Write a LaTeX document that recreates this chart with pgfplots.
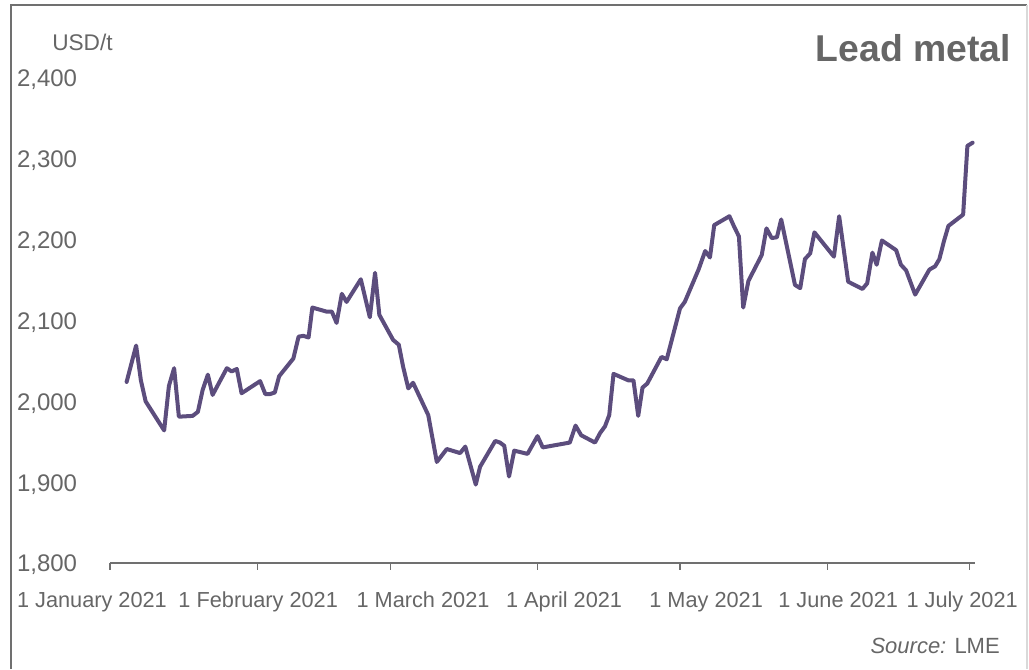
\documentclass[border=0pt]{standalone}
\usepackage{pgfplots}
\pgfplotsset{compat=1.18}
\usepackage{fontspec}
\setmainfont{Liberation Sans}

\definecolor{leadline}{HTML}{5C4D7D}
\definecolor{txtgray}{HTML}{666666}
\definecolor{framegray}{HTML}{707070}

\begin{document}
\begin{tikzpicture}
% 1 px of the reference = 0.75pt, origin at the axis' lower left corner
\useasboundingbox (-82.5pt,-79.5pt) rectangle (689.25pt,422.25pt);
\draw[framegray, line width=1.3pt] (-74.25pt,-79.5pt) -- (-74.25pt,418.5pt) -- (687.75pt,418.5pt);
\draw[gray!30, line width=1pt] (687.75pt,418.5pt) -- (687.75pt,-79.5pt);

\begin{axis}[
	at={(0,0)}, anchor=south west,
	scale only axis,
	width=648.4pt, height=363.75pt,
	xmin=0, xmax=182,
	ymin=1800, ymax=2400,
	axis lines*=left,
	x axis line style={draw=framegray, line width=1.3pt},
	y axis line style={draw=none},
	xtick={0,31,59,90,120,151,181},
	xticklabels={},
	xtick style={draw=framegray, line width=1pt},
	ytick={1800,1900,...,2400},
	ytick style={draw=none},
	tick align=outside,
	major tick length=5pt,
	yticklabel style={anchor=west, xshift=-68.25pt, yshift=-1.5pt, font=\fontsize{18}{20}\selectfont, text=txtgray},
	/pgf/number format/.cd, 1000 sep={,}, assume math mode=true,
	/pgfplots/.cd,
	clip=false,
]

\addplot[leadline, line width=3pt, line join=round, line cap=round] coordinates {
	(3.5,2024) (5.5,2069) (6.5,2026) (7.5,2000) (11.4,1964) (12.4,2019)
	(13.5,2041) (14.5,1981) (17.4,1982) (18.5,1987) (19.5,2014) (20.6,2033)
	(21.6,2008) (24.6,2041) (25.6,2037) (26.7,2040) (27.7,2010) (31.6,2025)
	(32.7,2009) (33.7,2009) (34.7,2011) (35.6,2031) (38.6,2053) (39.7,2080)
	(40.7,2081) (41.8,2079) (42.6,2116) (45.6,2111) (46.7,2111) (47.7,2097)
	(48.8,2133) (49.8,2123) (52.8,2151) (54.7,2104) (55.8,2159) (56.7,2107)
	(59.6,2076) (60.8,2070) (61.7,2043) (62.8,2016) (63.8,2023) (67.0,1983)
	(68.8,1925) (70.9,1941) (73.7,1936) (74.8,1944) (77.0,1897) (77.9,1919)
	(81.1,1951) (82.1,1949) (83.0,1945) (84.0,1907) (85.1,1939) (87.9,1935)
	(90.0,1957) (91.1,1943) (96.8,1949) (98.0,1970) (99.2,1958) (102.1,1949)
	(103.2,1961) (104.2,1969) (105.1,1983) (106.0,2034) (109.1,2026) (110.2,2026)
	(111.2,1982) (112.1,2017) (113.1,2022) (116.1,2055) (117.2,2052) (118.4,2079)
	(120.0,2115) (121.0,2123) (123.9,2163) (125.3,2186) (126.3,2178) (127.2,2218)
	(130.4,2229) (131.4,2216) (132.4,2204) (133.3,2116) (134.4,2149) (137.2,2181)
	(138.2,2214) (139.3,2202) (140.4,2203) (141.3,2225) (144.2,2144) (145.3,2140)
	(146.3,2176) (147.4,2183) (148.3,2209) (152.4,2179) (153.5,2229) (155.4,2148)
	(158.4,2139) (159.4,2146) (160.5,2184) (161.4,2169) (162.5,2199) (165.5,2187)
	(166.5,2169) (167.6,2162) (169.5,2132) (172.5,2163) (173.7,2167) (174.6,2176)
	(175.6,2199) (176.5,2217) (179.6,2231) (180.5,2316) (181.6,2320)
};

% date labels, set where the reference has them
\begin{scope}[every node/.style={anchor=base, text=txtgray, font=\fontsize{16.3}{19}\selectfont, inner sep=0pt}]
\node at ([yshift=-33pt]axis cs:-3.8,1800) {1 January 2021};
\node at ([yshift=-33pt]axis cs:31.2,1800) {1 February 2021};
\node at ([yshift=-33pt]axis cs:65.9,1800) {1 March 2021};
\node at ([yshift=-33pt]axis cs:95.6,1800) {1 April 2021};
\node at ([yshift=-33pt]axis cs:125.5,1800) {1 May 2021};
\node at ([yshift=-33pt]axis cs:153.3,1800) {1 June 2021};
\node at ([yshift=-33pt]axis cs:179.4,1800) {1 July 2021};
\end{scope}
\end{axis}

\node[anchor=west, inner sep=0pt, text=txtgray, font=\fontsize{17}{20}\selectfont] at (-43.5pt,390.75pt) {USD/t};
\node[anchor=base east, inner sep=0pt, text=txtgray, font=\fontsize{28}{32}\selectfont\bfseries] at (675.75pt,375.75pt) {Lead metal};
\node[anchor=base east, inner sep=0pt, text=txtgray, font=\fontsize{16.5}{19}\selectfont] at (667.5pt,-67.5pt) {\textit{Source:} LME};
\end{tikzpicture}
\end{document}
